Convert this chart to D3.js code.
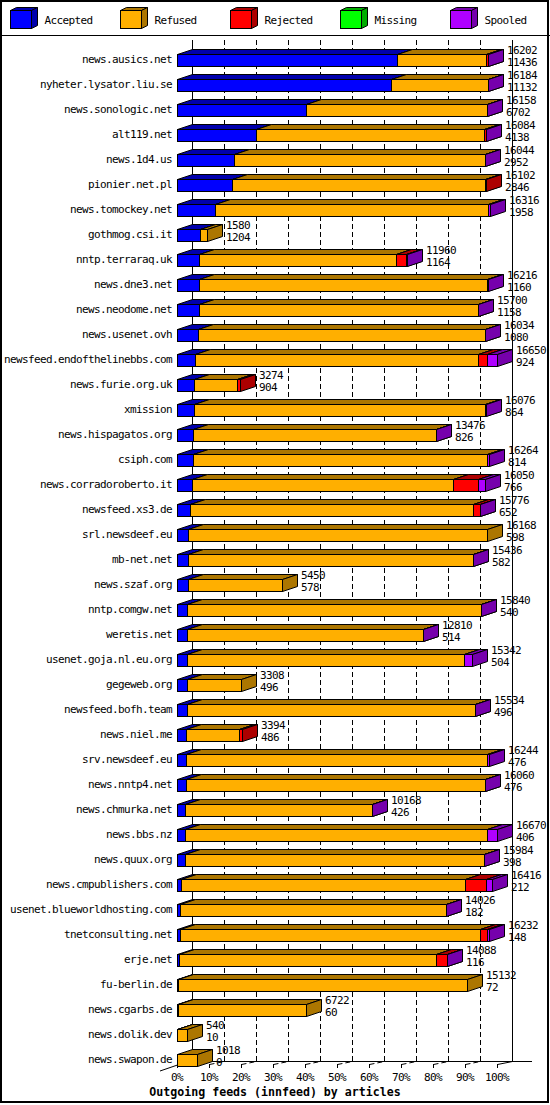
<!DOCTYPE html>
<html>
<head>
<meta charset="utf-8">
<script src="https://cdn.jsdelivr.net/npm/d3@7"></script>
<style>
  html, body { margin: 0; padding: 0; background: #fff; }
  svg { display: block; }
  text { font-family: "DejaVu Sans Mono", monospace; font-size: 11px; letter-spacing: -0.62px; fill: #000; }
  .title { font-weight: bold; font-size: 11.6px; letter-spacing: 0; }
</style>
</head>
<body>
<svg id="chart" width="550" height="1105"></svg>
<script>
// innfeed outgoing feeds, article counts per peer
const hosts = [
  'news.ausics.net', 'nyheter.lysator.liu.se', 'news.sonologic.net', 'alt119.net',
  'news.1d4.us', 'pionier.net.pl', 'news.tomockey.net', 'gothmog.csi.it',
  'nntp.terraraq.uk', 'news.dne3.net', 'news.neodome.net', 'news.usenet.ovh',
  'newsfeed.endofthelinebbs.com', 'news.furie.org.uk', 'xmission', 'news.hispagatos.org',
  'csiph.com', 'news.corradoroberto.it', 'newsfeed.xs3.de', 'srl.newsdeef.eu',
  'mb-net.net', 'news.szaf.org', 'nntp.comgw.net', 'weretis.net',
  'usenet.goja.nl.eu.org', 'gegeweb.org', 'newsfeed.bofh.team', 'news.niel.me',
  'srv.newsdeef.eu', 'news.nntp4.net', 'news.chmurka.net', 'news.bbs.nz',
  'news.quux.org', 'news.cmpublishers.com', 'usenet.blueworldhosting.com', 'tnetconsulting.net',
  'erje.net', 'fu-berlin.de', 'news.cgarbs.de', 'news.dolik.dev', 'news.swapon.de'
];
const offered = [
  16202, 16184, 16158, 16084, 16044, 16102, 16316, 1580, 11960, 16216, 15700, 16034,
  16650, 3274, 16076, 13476, 16264, 16050, 15776, 16168, 15436, 5450, 15840, 12810,
  15342, 3308, 15534, 3394, 16244, 16060, 10168, 16670, 15984, 16416, 14026, 16232,
  14088, 15132, 6722, 540, 1018
];
const accepted = [
  11436, 11132, 6702, 4138, 2952, 2846, 1958, 1204, 1164, 1160, 1158, 1080,
  924, 904, 864, 826, 814, 766, 652, 598, 582, 578, 540, 514,
  504, 496, 496, 486, 476, 476, 426, 406, 398, 212, 182, 148,
  116, 72, 60, 10, 0
];
const refused = [
  4678, 5044, 9448, 11868, 13084, 13196, 14258, 376, 10268, 14976, 14534, 14946,
  14756, 2220, 15204, 12642, 15360, 13634, 14766, 15570, 14846, 4872, 15292, 12288,
  14458, 2812, 15030, 2758, 15678, 15576, 9734, 15744, 15578, 14794, 13836, 15634,
  13354, 15060, 6662, 530, 1018
];
const rejected = [
  80, 0, 0, 70, 0, 60, 0, 0, 520, 0, 0, 0,
  450, 150, 0, 0, 0, 1300, 350, 0, 0, 0, 0, 0,
  0, 0, 0, 150, 0, 0, 0, 0, 0, 1080, 0, 350,
  610, 0, 0, 0, 0
];
const missing = [
  0, 0, 0, 0, 0, 0, 0, 0, 0, 0, 0, 0,
  0, 0, 0, 0, 0, 0, 0, 0, 0, 0, 0, 0,
  0, 0, 0, 0, 0, 0, 0, 0, 0, 0, 0, 0,
  0, 0, 0, 0, 0
];
const spooled = [
  8, 8, 8, 8, 8, 0, 100, 0, 8, 80, 8, 8,
  520, 0, 8, 8, 90, 350, 8, 0, 8, 0, 8, 8,
  380, 0, 8, 0, 90, 8, 8, 520, 8, 330, 8, 100,
  8, 0, 0, 0, 0
];
const seriesNames  = ['Accepted', 'Refused', 'Rejected', 'Missing', 'Spooled'];
const seriesColors = ['#0000ff', '#ffaf00', '#ff0000', '#00ff00', '#af00ff'];
const pctTicks = [0, 10, 20, 30, 40, 50, 60, 70, 80, 90, 100];
const chartTitle = 'Outgoing feeds (innfeed) by articles';

const svg = d3.select('#chart');
const DX = 15, DY = 5;          // depth of the 3d bars
const FLOOR = 1061;             // back edge of the floor
const TOP = 40;

const px = v => Math.round(v) + 0.5;
const dark = c => d3.rgb(c).darker(1.1).formatHex();
const colorOf = d3.scaleOrdinal().domain(seriesNames).range(seriesColors);

const x  = d3.scaleLinear().domain([0, d3.max(offered)]).range([177, 497]);
const xp = d3.scaleLinear().domain([0, 100]).range([177, 497]);
const y  = d3.scaleBand().domain(hosts).range([47, 1072]);

svg.append('rect').attr('width', 550).attr('height', 1105).attr('fill', '#fff');

// ── Legend ──
const leg = svg.append('g').selectAll('g').data(seriesNames).join('g')
  .attr('transform', (d, i) => `translate(${10 + 110 * i},0)`);
const sw = 21, sh = 18, sdx = 6, sdy = 3, sy = 10.5;
leg.append('polygon')
  .attr('points', `0.5,${sy} ${0.5 + sdx},${sy - sdy} ${0.5 + sw + sdx},${sy - sdy} ${0.5 + sw},${sy}`)
  .attr('fill', d => dark(colorOf(d))).attr('stroke', '#000');
leg.append('polygon')
  .attr('points', `${0.5 + sw},${sy} ${0.5 + sw + sdx},${sy - sdy} ${0.5 + sw + sdx},${sy + sh - sdy} ${0.5 + sw},${sy + sh}`)
  .attr('fill', d => dark(colorOf(d))).attr('stroke', '#000');
leg.append('rect')
  .attr('x', 0.5).attr('y', sy).attr('width', sw).attr('height', sh)
  .attr('fill', d => colorOf(d)).attr('stroke', '#000');
leg.append('text')
  .attr('x', 34.5).attr('y', 20).attr('dy', '0.35em')
  .text(d => d);

svg.append('line').attr('x1', 0).attr('x2', 550).attr('y1', 35.5).attr('y2', 35.5)
  .attr('stroke', '#000');

// ── Grid (back plane) ──
const grid = svg.append('g');
grid.selectAll('line.dash').data(pctTicks.slice(1, -1)).join('line')
  .attr('class', 'dash')
  .attr('x1', d => px(xp(d)) + DX).attr('x2', d => px(xp(d)) + DX)
  .attr('y1', TOP).attr('y2', FLOOR)
  .attr('stroke', '#000').attr('stroke-dasharray', '5,3');
grid.selectAll('line.solid').data([0, 100]).join('line')
  .attr('class', 'solid')
  .attr('x1', d => px(xp(d)) + DX).attr('x2', d => px(xp(d)) + DX)
  .attr('y1', TOP).attr('y2', FLOOR + 0.5)
  .attr('stroke', '#000');

// floor
grid.append('line')
  .attr('x1', px(xp(0)) + DX).attr('x2', 532).attr('y1', FLOOR + 0.5).attr('y2', FLOOR + 0.5)
  .attr('stroke', '#000');
grid.append('line')
  .attr('x1', 160).attr('y1', 1071).attr('x2', px(xp(0))).attr('y2', 1065)
  .attr('stroke', '#000');
grid.selectAll('line.depth').data(pctTicks.slice(1)).join('line')
  .attr('class', 'depth')
  .attr('x1', d => px(xp(d))).attr('y1', 1064.5)
  .attr('x2', d => px(xp(d)) + DX).attr('y2', FLOOR + 0.5)
  .attr('stroke', '#000')
  .attr('stroke-dasharray', d => d === 100 ? null : '5,3');
grid.selectAll('line.tick').data(pctTicks).join('line')
  .attr('class', 'tick')
  .attr('x1', d => px(xp(d))).attr('x2', d => px(xp(d)))
  .attr('y1', 1064).attr('y2', 1068)
  .attr('stroke', '#000');

// ── Bars ──
const table = hosts.map((h, i) => ({
  host: h, Accepted: accepted[i], Refused: refused[i], Rejected: rejected[i],
  Missing: missing[i], Spooled: spooled[i]
}));
const stacked = d3.stack().keys(seriesNames)(table);

const segs = [];
hosts.forEach((h, i) => {
  stacked.forEach(layer => {
    const [v0, v1] = layer[i];
    if (v1 > v0) segs.push({ host: h, key: layer.key, v0, v1 });
  });
});

const bars = svg.append('g').selectAll('g').data(segs).join('g');
bars.each(function (d) {
  const g = d3.select(this);
  const yc = y(d.host) + y.bandwidth() / 2;
  const yt = Math.round(yc - 6) + 0.5, yb = yt + 12;
  const x0 = px(x(d.v0)), x1 = px(x(d.v1));
  const c = colorOf(d.key), cd = dark(c);
  g.append('polygon')
    .attr('points', `${x0},${yt} ${x0 + DX},${yt - DY} ${x1 + DX},${yt - DY} ${x1},${yt}`)
    .attr('fill', cd).attr('stroke', '#000');
  g.append('rect')
    .attr('x', x0).attr('y', yt).attr('width', x1 - x0).attr('height', yb - yt)
    .attr('fill', c).attr('stroke', '#000');
  g.append('polygon')
    .attr('points', `${x1},${yt} ${x1 + DX},${yt - DY} ${x1 + DX},${yb - DY} ${x1},${yb}`)
    .attr('fill', cd).attr('stroke', '#000');
});

// ── Labels ──
const lab = svg.append('g');
lab.selectAll('text.host').data(hosts).join('text')
  .attr('class', 'host')
  .attr('x', 172).attr('y', d => y(d) + y.bandwidth() / 2).attr('dy', '0.35em')
  .attr('text-anchor', 'end')
  .text(d => d);

const ends = hosts.map((h, i) => stacked[stacked.length - 1][i][1]);
lab.selectAll('text.tot').data(hosts).join('text')
  .attr('class', 'tot')
  .attr('x', (d, i) => px(x(ends[i])) + DX + 3.5)
  .attr('y', d => y(d) + y.bandwidth() / 2 - 9.5).attr('dy', '0.35em')
  .text((d, i) => offered[i]);
lab.selectAll('text.acc').data(hosts).join('text')
  .attr('class', 'acc')
  .attr('x', (d, i) => px(x(ends[i])) + DX + 3.5)
  .attr('y', d => y(d) + y.bandwidth() / 2 + 2.5).attr('dy', '0.35em')
  .text((d, i) => accepted[i]);

lab.selectAll('text.pct').data(pctTicks).join('text')
  .attr('class', 'pct')
  .attr('x', d => xp(d)).attr('y', 1077).attr('dy', '0.35em')
  .attr('text-anchor', 'middle')
  .text(d => d + '%');

svg.append('text').attr('class', 'title')
  .attr('x', 275).attr('y', 1092).attr('dy', '0.35em')
  .attr('text-anchor', 'middle')
  .text(chartTitle);

// outer frame
svg.append('rect').attr('x', 1).attr('y', 1).attr('width', 547).attr('height', 1101)
  .attr('fill', 'none').attr('stroke', '#000').attr('stroke-width', 2);
</script>
</body>
</html>
